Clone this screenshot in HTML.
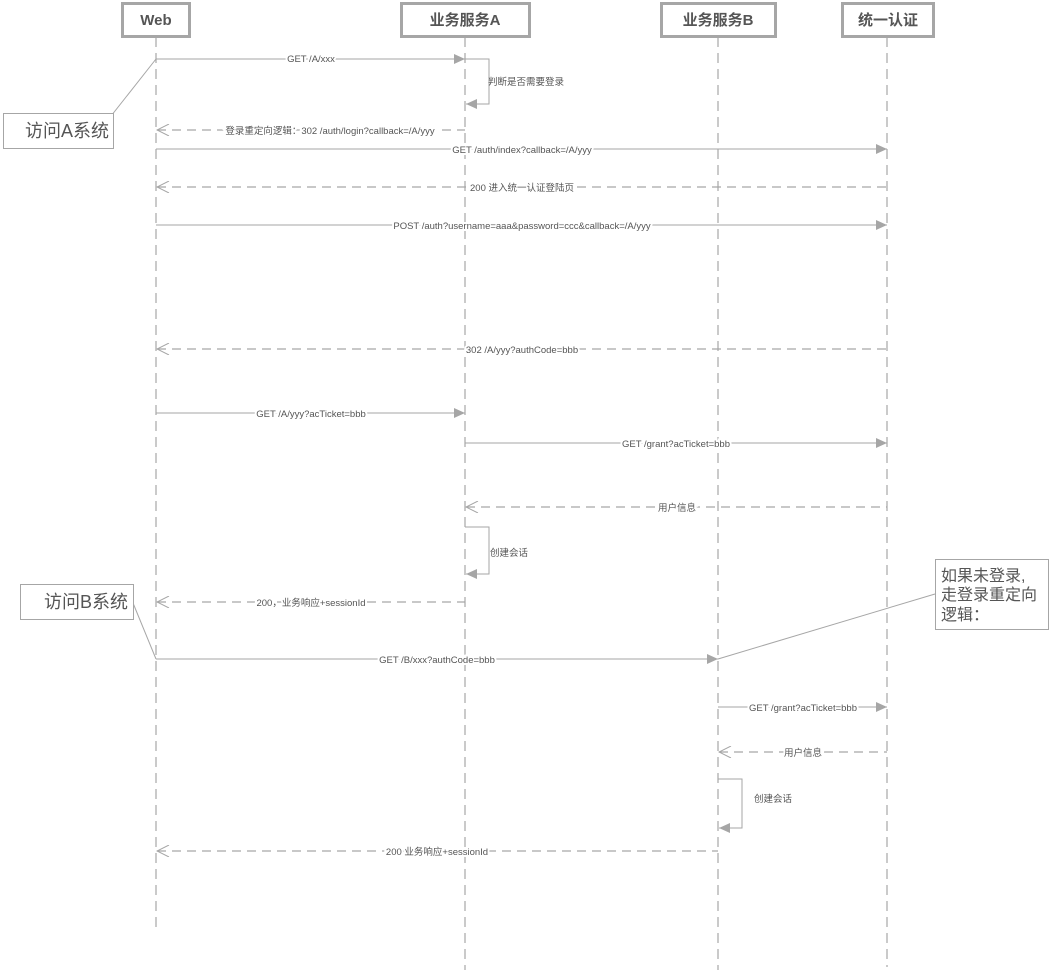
<!DOCTYPE html>
<html><head><meta charset="utf-8"><style>
html,body{margin:0;padding:0;background:#fff;}
svg{display:block;font-family:"Liberation Sans","Noto Sans CJK SC",sans-serif;}
</style></head><body>
<svg width="1050" height="971" viewBox="0 0 1050 971" xmlns="http://www.w3.org/2000/svg">
<defs>
<marker id="f" markerWidth="12" markerHeight="10" refX="11" refY="5" orient="auto" markerUnits="userSpaceOnUse"><path d="M0,0 L11,5 L0,10 Z" fill="#a6a6a6"/></marker>
<marker id="o" markerWidth="14" markerHeight="12" refX="1" refY="6" orient="auto" markerUnits="userSpaceOnUse"><path d="M13,0 L1,6 L13,12" fill="none" stroke="#a6a6a6" stroke-width="1"/></marker>
</defs>
<g stroke="#a6a6a6" stroke-width="1.2" stroke-dasharray="10,6" fill="none">
<line x1="156" y1="37" x2="156" y2="931"/>
<line x1="465" y1="37" x2="465" y2="970"/>
<line x1="718" y1="37" x2="718" y2="970"/>
<line x1="887" y1="37" x2="887" y2="967"/>
</g>
<g fill="#fff" stroke="#a6a6a6" stroke-width="3">
<rect x="122.5" y="3.5" width="67" height="33"/>
<rect x="401.5" y="3.5" width="128" height="33"/>
<rect x="661.5" y="3.5" width="114" height="33"/>
<rect x="842.5" y="3.5" width="91" height="33"/>
</g>
<g font-size="15" font-weight="bold" fill="#555" text-anchor="middle">
<text x="156" y="25">Web</text>
<text x="465" y="25">业务服务A</text>
<text x="718" y="25">业务服务B</text>
<text x="888" y="25">统一认证</text>
</g>
<!-- notes -->
<g stroke="#a6a6a6" stroke-width="1" fill="none">
<line x1="100" y1="130" x2="156" y2="59"/>
<line x1="133" y1="603" x2="156" y2="659"/>
<line x1="935" y1="594" x2="718" y2="659"/>
</g>
<g fill="#fff" stroke="#a6a6a6" stroke-width="1">
<rect x="3.5" y="113.5" width="110" height="35"/>
<rect x="20.5" y="584.5" width="113" height="35"/>
<rect x="935.5" y="559.5" width="113" height="70"/>
</g>
<g font-size="18" fill="#555">
<text x="25" y="137">访问A系统</text>
<text x="44" y="608">访问B系统</text>
<text x="941" y="581" font-size="16">如果未登录,</text>
<text x="941" y="600" font-size="16">走登录重定向</text>
<text x="941" y="620" font-size="16">逻辑：</text>
</g>
<!-- solid messages -->
<g stroke="#a6a6a6" stroke-width="1" fill="none" marker-end="url(#f)">
<line x1="156" y1="59" x2="465" y2="59"/>
<polyline points="465,59 489,59 489,104 466,104"/>
<line x1="156" y1="149" x2="887" y2="149"/>
<line x1="156" y1="225" x2="887" y2="225"/>
<line x1="156" y1="413" x2="465" y2="413"/>
<line x1="465" y1="443" x2="887" y2="443"/>
<polyline points="465,527 489,527 489,574 466,574"/>
<line x1="156" y1="659" x2="718" y2="659"/>
<line x1="718" y1="707" x2="887" y2="707"/>
<polyline points="718,779 742,779 742,828 719,828"/>
</g>
<!-- dashed returns -->
<g stroke="#a6a6a6" stroke-width="1.2" stroke-dasharray="9,6" fill="none" marker-start="url(#o)">
<line x1="157" y1="130" x2="465" y2="130"/>
<line x1="157" y1="187" x2="887" y2="187"/>
<line x1="157" y1="349" x2="887" y2="349"/>
<line x1="466" y1="507" x2="887" y2="507"/>
<line x1="157" y1="602" x2="465" y2="602"/>
<line x1="719" y1="752" x2="887" y2="752"/>
<line x1="157" y1="851" x2="718" y2="851"/>
</g>
<g font-size="9.5" fill="#555" text-anchor="middle" style="paint-order:stroke" stroke="#fff" stroke-width="4">
<text x="311" y="62">GET /A/xxx</text>
<text x="330" y="134">登录重定向逻辑：302 /auth/login?callback=/A/yyy</text>
<text x="522" y="153">GET /auth/index?callback=/A/yyy</text>
<text x="522" y="191">200 进入统一认证登陆页</text>
<text x="522" y="229">POST /auth?username=aaa&amp;password=ccc&amp;callback=/A/yyy</text>
<text x="522" y="353">302  /A/yyy?authCode=bbb</text>
<text x="311" y="417">GET /A/yyy?acTicket=bbb</text>
<text x="676" y="447">GET /grant?acTicket=bbb</text>
<text x="677" y="511">用户信息</text>
<text x="311" y="606">200，业务响应+sessionId</text>
<text x="437" y="663">GET /B/xxx?authCode=bbb</text>
<text x="803" y="711">GET /grant?acTicket=bbb</text>
<text x="803" y="756">用户信息</text>
<text x="437" y="855">200 业务响应+sessionId</text>
</g>
<g font-size="9.5" fill="#555">
<text x="488" y="85">判断是否需要登录</text>
<text x="490" y="556">创建会话</text>
<text x="754" y="802">创建会话</text>
</g>
</svg>
</body></html>
